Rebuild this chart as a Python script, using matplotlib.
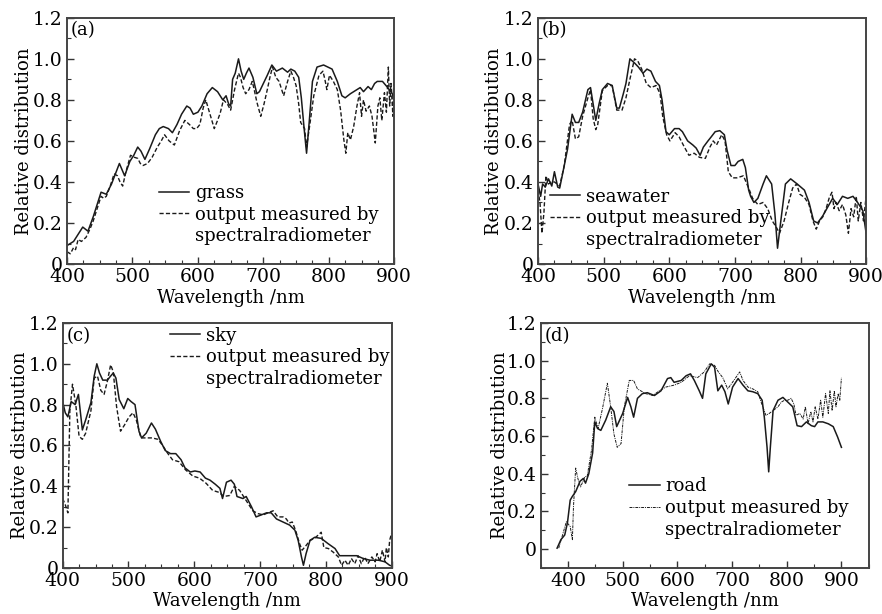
import matplotlib
matplotlib.use('Agg')
import matplotlib.pyplot as plt
from matplotlib.lines import Line2D
from matplotlib.ticker import MultipleLocator

# (a) grass
grass_wl = [400, 405, 410, 416, 424, 432, 440, 446, 452, 460, 468, 474, 480, 488, 496, 502, 508, 513,
            519, 526, 535, 541, 547, 555, 561, 568, 575, 583, 588, 593, 600, 606, 614, 622, 630, 638,
            643, 647, 650, 653, 657, 662, 666, 670, 674, 678, 684, 690, 694, 700, 706, 713, 720, 729,
            737, 742, 748, 754, 758, 762, 766, 770, 775, 782, 792, 805, 813, 820, 825, 833, 843, 848,
            853, 860, 865, 870, 874, 882, 890, 897, 900]
grass_val = [0.09, 0.10, 0.11, 0.14, 0.18, 0.16, 0.23, 0.29, 0.35, 0.34, 0.39, 0.44, 0.49, 0.43, 0.50,
             0.53, 0.57, 0.55, 0.51, 0.56, 0.63, 0.66, 0.67, 0.66, 0.64, 0.68, 0.73, 0.77, 0.76, 0.73,
             0.74, 0.77, 0.83, 0.86, 0.84, 0.80, 0.82, 0.78, 0.77, 0.90, 0.93, 1.00, 0.94, 0.90, 0.93,
             0.955, 0.91, 0.83, 0.84, 0.88, 0.92, 0.97, 0.94, 0.955, 0.935, 0.95, 0.94, 0.91, 0.81, 0.67,
             0.54, 0.69, 0.89, 0.96, 0.97, 0.95, 0.89, 0.82, 0.81, 0.83, 0.85, 0.86, 0.84, 0.865, 0.85,
             0.88, 0.89, 0.89, 0.86, 0.83, 0.80]
grass_meas_wl = [400, 405, 410, 413, 417, 422, 429, 435, 440, 446, 452, 456, 460, 466, 472, 477, 481,
                 485, 490, 497, 503, 508, 512, 516, 523, 530, 538, 544, 549, 556, 564, 572, 580, 587,
                 593, 598, 603, 608, 612, 618, 625, 630, 634, 639, 645, 650, 656, 662, 665, 669, 673,
                 678, 683, 686, 690, 696, 701, 706, 710, 714, 719, 724, 731, 737, 742, 746, 750, 754,
                 757, 763, 766, 771, 777, 785, 791, 794, 797, 801, 807, 813, 818, 823, 826, 829, 833,
                 838, 843, 847, 850, 853, 857, 862, 866, 871, 875, 878, 881, 885, 888, 891, 893, 895,
                 898, 900]
grass_meas_val = [0.06, 0.05, 0.08, 0.07, 0.12, 0.11, 0.13, 0.17, 0.21, 0.27, 0.33, 0.32, 0.33, 0.38,
                  0.44, 0.43, 0.40, 0.38, 0.45, 0.53, 0.52, 0.515, 0.49, 0.48, 0.49, 0.52, 0.57, 0.60,
                  0.63, 0.60, 0.58, 0.65, 0.70, 0.68, 0.66, 0.66, 0.68, 0.76, 0.80, 0.735, 0.66, 0.70,
                  0.735, 0.80, 0.78, 0.75, 0.85, 0.93, 0.91, 0.86, 0.83, 0.85, 0.89, 0.85, 0.79, 0.72,
                  0.78, 0.85, 0.91, 0.96, 0.91, 0.89, 0.82, 0.89, 0.94, 0.91, 0.87, 0.78, 0.69, 0.66,
                  0.57, 0.68, 0.82, 0.92, 0.94, 0.90, 0.85, 0.92, 0.89, 0.85, 0.75, 0.605, 0.54, 0.64,
                  0.605, 0.67, 0.77, 0.835, 0.72, 0.80, 0.745, 0.77, 0.72, 0.59, 0.77, 0.81, 0.70, 0.835,
                  0.74, 0.96, 0.77, 0.88, 0.72, 0.995]

# (b) seawater
sea_wl = [400, 404, 407, 411, 416, 421, 425, 430, 433, 440, 445, 452, 457, 462, 468, 476, 480, 484,
          488, 493, 498, 506, 513, 520, 524, 530, 534, 540, 547, 553, 560, 566, 572, 579, 585, 589,
          595, 600, 608, 615, 620, 628, 636, 641, 647, 652, 659, 664, 670, 677, 684, 688, 694, 700,
          705, 712, 716, 721, 724, 729, 735, 743, 748, 756, 761, 765, 770, 777, 785, 795, 806, 813,
          820, 826, 834, 841, 849, 856, 864, 872, 880, 887, 895, 900]
sea_val = [0.39, 0.33, 0.39, 0.375, 0.415, 0.38, 0.45, 0.375, 0.37, 0.48, 0.56, 0.73, 0.69, 0.69, 0.74,
           0.85, 0.86, 0.78, 0.70, 0.78, 0.85, 0.88, 0.87, 0.76, 0.76, 0.83, 0.88, 1.00, 0.98, 0.96,
           0.93, 0.95, 0.94, 0.89, 0.87, 0.80, 0.645, 0.63, 0.66, 0.66, 0.645, 0.60, 0.58, 0.565, 0.53,
           0.57, 0.60, 0.62, 0.645, 0.65, 0.63, 0.556, 0.48, 0.48, 0.50, 0.51, 0.47, 0.36, 0.33, 0.30,
           0.32, 0.39, 0.43, 0.39, 0.244, 0.077, 0.21, 0.39, 0.415, 0.39, 0.36, 0.30, 0.21, 0.20, 0.235,
           0.275, 0.32, 0.29, 0.33, 0.32, 0.33, 0.30, 0.26, 0.15]
sea_meas_wl = [400, 403, 406, 409, 412, 416, 420, 425, 433, 440, 448, 452, 457, 462, 468, 476, 480,
               484, 488, 491, 498, 506, 513, 520, 528, 534, 540, 547, 552, 558, 565, 572, 580, 586,
               590, 596, 601, 609, 615, 623, 630, 638, 646, 655, 662, 667, 672, 680, 685, 690, 696,
               703, 713, 721, 727, 735, 743, 750, 757, 763, 768, 775, 782, 788, 794, 799, 806, 813,
               819, 824, 829, 834, 839, 844, 848, 851, 854, 859, 864, 869, 873, 877, 881, 885, 888,
               892, 896, 900]
sea_meas_val = [0.36, 0.30, 0.15, 0.25, 0.43, 0.39, 0.40, 0.40, 0.38, 0.48, 0.68, 0.70, 0.61, 0.62,
                0.72, 0.81, 0.85, 0.71, 0.655, 0.68, 0.845, 0.87, 0.87, 0.75, 0.75, 0.81, 0.90, 1.00,
                0.99, 0.95, 0.88, 0.86, 0.87, 0.83, 0.72, 0.63, 0.60, 0.64, 0.62, 0.57, 0.53, 0.54,
                0.52, 0.515, 0.57, 0.60, 0.58, 0.63, 0.60, 0.45, 0.42, 0.42, 0.43, 0.37, 0.32, 0.29,
                0.30, 0.27, 0.21, 0.18, 0.15, 0.21, 0.30, 0.37, 0.39, 0.34, 0.325, 0.29, 0.21, 0.17,
                0.21, 0.23, 0.27, 0.325, 0.35, 0.27, 0.30, 0.26, 0.29, 0.24, 0.15, 0.27, 0.23, 0.33,
                0.21, 0.30, 0.21, 0.33]

# (c) sky
sky_wl = [400, 404, 408, 413, 419, 424, 430, 435, 443, 448, 452, 456, 461, 468, 473, 477, 481, 486,
          493, 499, 504, 510, 516, 520, 527, 535, 541, 549, 556, 564, 572, 580, 586, 594, 601, 609,
          617, 624, 632, 639, 643, 649, 656, 661, 665, 674, 679, 687, 694, 702, 710, 717, 725, 735,
          745, 753, 758, 763, 766, 770, 776, 783, 793, 803, 814, 821, 831, 847, 857, 867, 880, 890,
          897, 900]
sky_val = [0.815, 0.76, 0.74, 0.815, 0.80, 0.85, 0.676, 0.725, 0.81, 0.94, 1.00, 0.955, 0.92, 0.92,
           0.94, 0.955, 0.93, 0.825, 0.78, 0.83, 0.815, 0.80, 0.67, 0.637, 0.66, 0.71, 0.68, 0.62, 0.575,
           0.56, 0.56, 0.53, 0.49, 0.47, 0.475, 0.47, 0.44, 0.43, 0.41, 0.39, 0.34, 0.42, 0.43, 0.41,
           0.35, 0.34, 0.35, 0.30, 0.25, 0.26, 0.27, 0.27, 0.24, 0.225, 0.21, 0.185, 0.135, 0.054,
           0.013, 0.07, 0.135, 0.15, 0.145, 0.12, 0.095, 0.06, 0.06, 0.06, 0.046, 0.038, 0.038, 0.03,
           0.013, 0.01]
sky_meas_wl = [400, 404, 408, 411, 415, 420, 425, 430, 435, 443, 448, 453, 458, 463, 468, 473, 477,
               482, 488, 494, 501, 507, 512, 519, 526, 536, 545, 552, 560, 567, 577, 587, 598, 608,
               618, 628, 638, 645, 654, 661, 669, 679, 689, 697, 705, 712, 720, 727, 735, 740, 744,
               749, 754, 760, 764, 770, 776, 783, 788, 793, 797, 804, 811, 819, 824, 829, 834, 839,
               844, 849, 854, 859, 864, 870, 875, 878, 882, 886, 890, 892, 895, 897, 900]
sky_meas_val = [0.34, 0.31, 0.27, 0.77, 0.90, 0.80, 0.645, 0.63, 0.66, 0.77, 0.93, 0.94, 0.87, 0.85,
                0.915, 0.995, 0.96, 0.79, 0.67, 0.70, 0.74, 0.76, 0.725, 0.637, 0.637, 0.637, 0.63,
                0.60, 0.56, 0.53, 0.52, 0.48, 0.45, 0.44, 0.415, 0.38, 0.37, 0.35, 0.355, 0.40, 0.38,
                0.33, 0.28, 0.266, 0.26, 0.27, 0.28, 0.25, 0.25, 0.24, 0.22, 0.225, 0.185, 0.12, 0.087,
                0.11, 0.135, 0.145, 0.16, 0.175, 0.10, 0.095, 0.078, 0.054, 0.013, 0.038, 0.013, 0.046,
                0.021, 0.06, 0.021, 0.054, 0.021, 0.054, 0.03, 0.07, 0.03, 0.087, 0.03, 0.10, 0.054,
                0.135, 0.17]

# (d) road
road_wl = [380, 387, 394, 399, 404, 408, 414, 422, 428, 432, 438, 445, 449, 454, 460, 469, 478, 484,
           489, 500, 509, 515, 520, 527, 536, 545, 558, 570, 582, 588, 594, 607, 616, 624, 631, 640,
           646, 652, 662, 668, 674, 681, 687, 693, 701, 711, 720, 729, 738, 747, 755, 759, 764, 767,
           770, 775, 784, 793, 802, 811, 819, 827, 836, 845, 851, 857, 866, 876, 885, 893, 900]
road_val = [0.005, 0.05, 0.075, 0.14, 0.26, 0.28, 0.305, 0.36, 0.375, 0.35, 0.40, 0.51, 0.675, 0.64,
            0.63, 0.685, 0.755, 0.73, 0.65, 0.72, 0.805, 0.755, 0.70, 0.80, 0.825, 0.83, 0.815, 0.84,
            0.905, 0.91, 0.885, 0.895, 0.92, 0.93, 0.895, 0.84, 0.80, 0.93, 0.983, 0.965, 0.84, 0.87,
            0.835, 0.77, 0.86, 0.905, 0.87, 0.84, 0.835, 0.825, 0.79, 0.70, 0.54, 0.41, 0.54, 0.735,
            0.79, 0.805, 0.78, 0.755, 0.655, 0.65, 0.675, 0.655, 0.65, 0.675, 0.675, 0.665, 0.65,
            0.595, 0.54]
road_meas_wl = [383, 390, 397, 404, 408, 410, 414, 418, 423, 431, 435, 443, 449, 455, 463, 472, 478,
                484, 490, 497, 503, 512, 520, 527, 533, 542, 555, 567, 579, 594, 607, 622, 637, 649,
                659, 668, 675, 683, 692, 701, 714, 720, 729, 738, 747, 756, 762, 768, 775, 784, 790,
                796, 802, 808, 813, 817, 824, 830, 834, 839, 844, 848, 852, 857, 862, 866, 871, 876,
                879, 883, 887, 890, 894, 897, 900]
road_meas_val = [0.005, 0.075, 0.145, 0.12, 0.05, 0.225, 0.43, 0.375, 0.33, 0.385, 0.385, 0.525, 0.70,
                 0.64, 0.745, 0.88, 0.755, 0.61, 0.54, 0.56, 0.755, 0.895, 0.895, 0.85, 0.84, 0.825,
                 0.815, 0.84, 0.86, 0.87, 0.885, 0.92, 0.91, 0.94, 0.983, 0.975, 0.94, 0.91, 0.85,
                 0.886, 0.94, 0.895, 0.86, 0.85, 0.835, 0.755, 0.71, 0.72, 0.735, 0.755, 0.78, 0.79,
                 0.79, 0.80, 0.77, 0.71, 0.72, 0.69, 0.755, 0.665, 0.73, 0.675, 0.755, 0.69, 0.79,
                 0.70, 0.825, 0.72, 0.84, 0.735, 0.84, 0.755, 0.825, 0.79, 0.91]

plt.rcParams['font.family'] = ['DejaVu Serif']
plt.rcParams['font.size'] = 13

fig = plt.figure(figsize=(8.82, 6.14), dpi=100)

panels = [
    # position, tag, solid, measured, label, legend anchor, measured style
    ([0.076, 0.570, 0.371, 0.401], '(a)', (grass_wl, grass_val), (grass_meas_wl, grass_meas_val),
     'grass', (0.28, 0.325), (0, (3, 1.6))),
    ([0.610, 0.570, 0.372, 0.401], '(b)', (sea_wl, sea_val), (sea_meas_wl, sea_meas_val),
     'seawater', (0.035, 0.31), (0, (3, 1.6))),
    ([0.071, 0.075, 0.373, 0.399], '(c)', (sky_wl, sky_val), (sky_meas_wl, sky_meas_val),
     'sky', (0.325, 0.985), (0, (3, 1.6))),
    ([0.613, 0.075, 0.372, 0.399], '(d)', (road_wl, road_val), (road_meas_wl, road_meas_val),
     'road', (0.27, 0.37), (0, (3, 1, 1, 1))),
]

# right edge of the rotated y label, in axes units
ylab_x = [-0.104, -0.107, -0.103, -0.098]

for i, (pos, tag, solid, meas, name, anchor, mstyle) in enumerate(panels):
    ax = fig.add_axes(pos)
    ax.plot(solid[0], solid[1], color='#1a1a1a', lw=1.1, ls='-')
    mlw = 0.7 if tag == '(d)' else 1.0
    ax.plot(meas[0], meas[1], color='#1a1a1a', lw=mlw, ls=mstyle)

    if tag == '(d)':
        ax.set_xlim(350, 950)
        ax.set_ylim(-0.1, 1.2)
        ax.xaxis.set_minor_locator(MultipleLocator(50))
    else:
        ax.set_xlim(400, 900)
        ax.set_ylim(0, 1.2)
        ax.xaxis.set_minor_locator(MultipleLocator(25))
    ax.set_xticks([400, 500, 600, 700, 800, 900])
    ax.set_yticks([0, 0.2, 0.4, 0.6, 0.8, 1.0, 1.2])
    ax.set_yticklabels(['0', '0.2', '0.4', '0.6', '0.8', '1.0', '1.2'])
    ax.yaxis.set_minor_locator(MultipleLocator(0.1))
    ax.tick_params(which='major', direction='in', length=5, width=1, color='#333333', pad=3,
                   labelsize=13.5)
    ax.tick_params(which='minor', direction='in', length=3, width=0.8, color='#333333')
    for s in ax.spines.values():
        s.set_linewidth(1.4)
        s.set_color('#444444')

    ax.set_xlabel('Wavelength /nm')
    ax.set_ylabel('Relative distribution')
    ax.xaxis.set_label_coords(0.5, -0.10)
    ax.yaxis.set_label_coords(ylab_x[i], 0.5)

    ax.text(0.012, 0.985, tag, transform=ax.transAxes, ha='left', va='top')

    handles = [Line2D([], [], color='#1a1a1a', lw=1.1),
               Line2D([], [], color='#1a1a1a', lw=mlw, ls=mstyle),
               Line2D([], [], color='none')]
    ax.legend(handles, [name, 'output measured by', 'spectralradiometer'],
              loc='upper left', bbox_to_anchor=anchor, frameon=False,
              borderpad=0, borderaxespad=0, handlelength=1.7, handletextpad=0.3,
              labelspacing=0.2)

plt.savefig('out.png', dpi=100)
